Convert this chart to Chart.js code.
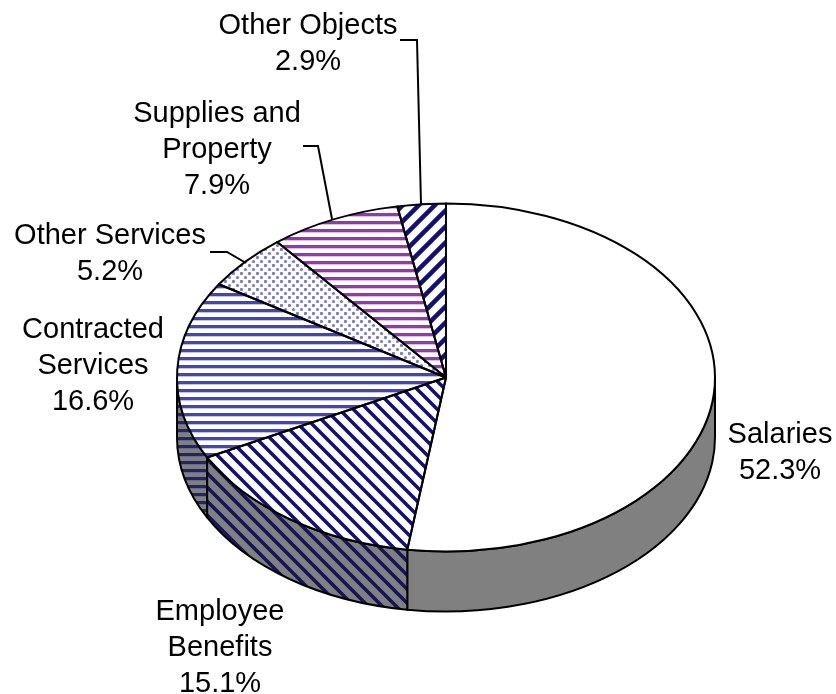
<!DOCTYPE html>
<html>
<head>
<meta charset="utf-8">
<title>Expenditures by object</title>
<style>
  html, body { margin: 0; padding: 0; background: #fff; }
  canvas { display: block; }
</style>
<script src="https://cdn.jsdelivr.net/npm/chart.js@4"></script>
</head>
<body>
<canvas id="pie" width="836" height="694"></canvas>
<script>
// ── Data ────────────────────────────────────────
const categories = ['Salaries', 'Employee Benefits', 'Contracted Services', 'Other Services', 'Supplies and Property', 'Other Objects'];
const shares     = [52.3, 15.1, 16.6, 5.2, 7.9, 2.9];
const labelLines = [['Salaries'], ['Employee', 'Benefits'], ['Contracted', 'Services'], ['Other Services'], ['Supplies and', 'Property'], ['Other Objects']];

// ── Layout ──────────────────────────────────────
const RADIUS = 269;
const TILT   = 174 / 269;
const DEPTH  = 60;
const FONT   = '29px "Liberation Sans", Arial, sans-serif';
const LINE_H = 35.8;

// centre x and first baseline of each label
const labelAnchors = [[780, 443], [220, 620], [93, 338], [110, 244], [217, 122], [308, 34]];
// leader lines, only for the labels that need one
const leaders = [
  null, null, null,
  [[210, 252], [227, 252], [246, 263]],
  [[303, 146], [318, 146], [332, 219]],
  [[400, 40], [417, 40], [421, 204]],
];

// ── Hatch patterns ──────────────────────────────
function tile(w, h, paint) {
  const c = document.createElement('canvas');
  c.width = w;
  c.height = h;
  paint(c.getContext('2d'));
  return document.createElement('canvas').getContext('2d').createPattern(c, 'repeat');
}

function solid(bg) {
  return tile(2, 2, g => { g.fillStyle = bg; g.fillRect(0, 0, 2, 2); });
}

function hStripes(bg, dark, light) {
  return tile(8, 8, g => {
    g.fillStyle = bg;
    g.fillRect(0, 0, 8, 8);
    g.fillStyle = dark;
    g.fillRect(0, 5, 8, 3);
    g.fillStyle = light;
    g.fillRect(0, 0, 8, 1);
  });
}

// dir 1 runs down to the right, dir -1 up to the right
function diagonal(size, width, bg, ink, dir) {
  return tile(size, size, g => {
    g.fillStyle = bg;
    g.fillRect(0, 0, size, size);
    g.strokeStyle = ink;
    g.lineWidth = width;
    for (let off = -size; off <= size; off += size) {
      g.beginPath();
      if (dir > 0) {
        g.moveTo(off - 2, -2);
        g.lineTo(off + size + 2, size + 2);
      } else {
        g.moveTo(off - 2, size + 2);
        g.lineTo(off + size + 2, -2);
      }
      g.stroke();
    }
  });
}

function dots(bg, ink) {
  return tile(8, 8, g => {
    g.fillStyle = bg;
    g.fillRect(0, 0, 8, 8);
    g.fillStyle = ink;
    [[1, 1], [5, 5]].forEach(([x, y]) => {
      g.beginPath();
      g.arc(x + 0.5, y + 0.5, 1.6, 0, Math.PI * 2);
      g.fill();
    });
  });
}

const facePatterns = [
  solid('#ffffff'),
  diagonal(14, 3.5, '#ffffff', '#10107c', 1),
  hStripes('#ffffff', '#4646a8', '#c2c2e6'),
  dots('#ffffff', '#7a7ac8'),
  hStripes('#ffffff', '#8c3fa0', '#dcc0e4'),
  diagonal(16, 4.5, '#ffffff', '#10107c', -1),
];

const wallPatterns = [
  solid('#808080'),
  diagonal(14, 3.5, '#808080', '#14145c', 1),
  hStripes('#808080', '#24245e', '#6a6a84'),
];

// ── Tilted pie plugin ───────────────────────────
function slicePath(ctx, arc, from, to) {
  const ry = RADIUS * TILT;
  ctx.beginPath();
  ctx.ellipse(arc.x, arc.y, RADIUS, ry, 0, from, to);
  ctx.lineTo(arc.x + Math.cos(to) * RADIUS, arc.y + DEPTH + Math.sin(to) * ry);
  ctx.ellipse(arc.x, arc.y + DEPTH, RADIUS, ry, 0, to, from, true);
  ctx.closePath();
}

const tiltedPie = {
  id: 'tiltedPie',

  // rim below the front half of the pie
  beforeDatasetsDraw(chart) {
    const ctx = chart.ctx;
    chart.getDatasetMeta(0).data.forEach((arc, i) => {
      const from = Math.max(arc.startAngle, 0);
      const to   = Math.min(arc.endAngle, Math.PI);
      if (to <= from) return;
      ctx.save();
      slicePath(ctx, arc, from, to);
      ctx.fillStyle = wallPatterns[i];
      ctx.fill();
      ctx.lineWidth = 2;
      ctx.strokeStyle = '#000';
      ctx.lineJoin = 'round';
      ctx.stroke();
      ctx.restore();
    });
  },

  // squash the round slices into an ellipse, hatching stays upright
  beforeDatasetDraw(chart) {
    const ctx = chart.ctx;
    const cy  = chart.getDatasetMeta(0).data[0].y;
    const fix = new DOMMatrix([1, 0, 0, 1 / TILT, 0, cy - cy / TILT]);
    facePatterns.forEach(p => p.setTransform(fix));
    ctx.save();
    ctx.translate(0, cy);
    ctx.scale(1, TILT);
    ctx.translate(0, -cy);
  },

  afterDatasetDraw(chart) {
    const ctx = chart.ctx;
    ctx.restore();
    const ry = RADIUS * TILT;
    ctx.save();
    ctx.lineWidth = 2;
    ctx.strokeStyle = '#000';
    ctx.lineJoin = 'round';
    chart.getDatasetMeta(0).data.forEach(arc => {
      ctx.beginPath();
      ctx.moveTo(arc.x, arc.y);
      ctx.ellipse(arc.x, arc.y, RADIUS, ry, 0, arc.startAngle, arc.endAngle);
      ctx.closePath();
      ctx.stroke();
    });
    ctx.restore();
  },

  afterDraw(chart) {
    const ctx = chart.ctx;
    ctx.save();
    ctx.font = FONT;
    ctx.fillStyle = '#000';
    ctx.textAlign = 'center';
    ctx.textBaseline = 'alphabetic';
    labelLines.forEach((lines, i) => {
      const [x, y] = labelAnchors[i];
      const rows = lines.concat(shares[i].toFixed(1) + '%');
      rows.forEach((row, r) => ctx.fillText(row, x, y + r * LINE_H));
    });
    ctx.lineWidth = 2;
    ctx.strokeStyle = '#000';
    leaders.forEach(pts => {
      if (!pts) return;
      ctx.beginPath();
      pts.forEach(([x, y], n) => (n ? ctx.lineTo(x, y) : ctx.moveTo(x, y)));
      ctx.stroke();
    });
    ctx.restore();
  },
};

// ── Chart ───────────────────────────────────────
new Chart(document.getElementById('pie'), {
  type: 'pie',
  data: {
    labels: categories,
    datasets: [{
      data: shares,
      backgroundColor: facePatterns,
      borderWidth: 0,
      clip: false,
    }],
  },
  options: {
    responsive: false,
    animation: false,
    events: [],
    radius: RADIUS,
    layout: { padding: { left: 177, right: 121, top: 108, bottom: 47 } },
    plugins: { legend: { display: false }, tooltip: { enabled: false } },
  },
  plugins: [tiltedPie],
});
</script>
</body>
</html>
